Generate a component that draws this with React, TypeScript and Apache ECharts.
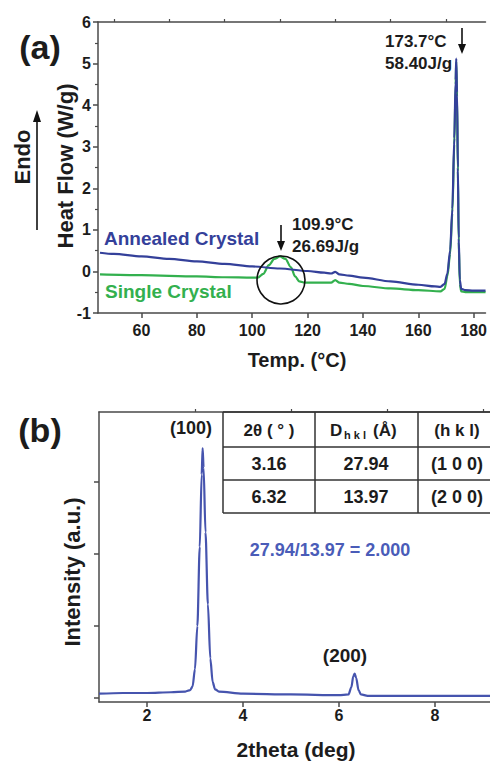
import React, { useEffect, useRef } from "react";
import * as echarts from "echarts";

// ---- (a) DSC data ----
const annealedTemp = [45, 50, 60, 70, 80, 90, 100, 110, 120, 126, 128.5, 130, 131.5, 135, 140, 150, 160, 166, 168, 169.5, 170.5, 171.5, 172.3, 173, 173.5, 173.7, 174, 174.3, 174.6, 175, 175.5, 177, 180, 184.3];
const annealedHeat = [0.45, 0.42, 0.36, 0.3, 0.24, 0.18, 0.12, 0.07, 0.01, -0.03, -0.05, -0.01, -0.07, -0.1, -0.15, -0.24, -0.32, -0.36, -0.37, -0.3, -0.05, 0.5, 1.5, 3.2, 4.6, 5.12, 4.3, 2.5, 0.8, -0.2, -0.42, -0.45, -0.46, -0.46];
const singleTemp = [45, 60, 80, 90, 100, 102, 104, 106, 108, 110, 112, 114, 115.5, 117, 119, 125, 128.5, 130, 131.5, 135, 140, 150, 160, 168, 169.5, 170.5, 171.5, 172.3, 173, 173.5, 173.7, 174, 174.3, 174.6, 175, 175.5, 177, 184.3];
const singleHeat = [-0.07, -0.09, -0.12, -0.14, -0.15, -0.15, -0.06, 0.15, 0.3, 0.36, 0.3, 0.1, -0.12, -0.24, -0.27, -0.27, -0.27, -0.21, -0.27, -0.3, -0.35, -0.41, -0.45, -0.48, -0.42, -0.12, 0.42, 1.4, 3.05, 4.5, 5.05, 4.2, 2.4, 0.7, -0.3, -0.48, -0.5, -0.5];

// ---- (b) XRD data ----
const xrdTheta = [1.0, 1.5, 2.0, 2.5, 2.8, 2.9, 2.95, 3.0, 3.05, 3.1, 3.14, 3.16, 3.18, 3.22, 3.27, 3.32, 3.37, 3.42, 3.5, 4.0, 5.0, 6.0, 6.2, 6.26, 6.3, 6.33, 6.36, 6.41, 6.46, 6.6, 7.0, 8.0, 9.15];
const xrdIntensity = [0.06, 0.07, 0.07, 0.08, 0.09, 0.11, 0.16, 0.4, 1.0, 2.1, 3.1, 3.47, 3.2, 2.3, 1.3, 0.55, 0.22, 0.12, 0.09, 0.06, 0.05, 0.04, 0.05, 0.15, 0.3, 0.34, 0.28, 0.11, 0.05, 0.03, 0.03, 0.03, 0.03];

// ---- ticks ----
const dscMajorTicks = [60, 80, 100, 120, 140, 160, 180];
const dscMinorTicks = [50, 70, 90, 110, 130, 150, 170];
const xrdMajorTicks = [2, 4, 6, 8];
const xrdMinorTicks = [3, 5, 7, 9];
const xrdYTicks = [0, 1, 2, 3];

// ---- table ----
const tableHeader = ["2θ ( ° )", "D", "(h k l)"];
const tableTwoTheta = ["3.16", "6.32"];
const tableD = ["27.94", "13.97"];
const tableHkl = ["(1 0 0)", "(2 0 0)"];

const FONT = "'Liberation Sans', Arial, Helvetica, sans-serif";
const DARK = "#1c1c1c";
const AXIS = "#4a4a4a";
const BLUE = "#34409a";
const GREEN = "#33b04e";
const XRD_BLUE = "#4654ae";

const zip = (a: number[], b: number[]) => a.map((v, i) => [v, b[i]]);

function txt(text: string, x: number, y: number, size: number, opts: any = {}) {
  return {
    type: "text",
    x,
    y,
    rotation: opts.rotation || 0,
    z: 100,
    style: {
      text,
      fill: opts.fill || DARK,
      font: `bold ${size}px ${FONT}`,
      textAlign: opts.align || "center",
      textVerticalAlign: "middle",
    },
  };
}

function downArrow(x: number, y1: number, y2: number) {
  return [
    { type: "line", z: 100, shape: { x1: x, y1, x2: x, y2: y2 - 8 }, style: { stroke: "#111", lineWidth: 1.6 } },
    { type: "polygon", z: 100, shape: { points: [[x - 4, y2 - 10], [x + 4, y2 - 10], [x, y2]] }, style: { fill: "#111" } },
  ];
}

function hline(x1: number, x2: number, y: number) {
  return { type: "line", z: 100, shape: { x1, y1: y, x2, y2: y }, style: { stroke: "#333", lineWidth: 1.5 } };
}
function vline(x: number, y1: number, y2: number) {
  return { type: "line", z: 100, shape: { x1: x, y1, x2: x, y2 }, style: { stroke: "#333", lineWidth: 1.5 } };
}

export default function App() {
  const ref = useRef<HTMLDivElement>(null);
  useEffect(() => {
    if (!ref.current) return;
    const chart = echarts.init(ref.current, null, { renderer: "svg" });

    const axisLine = { show: true, onZero: false, lineStyle: { color: AXIS, width: 1.5 } };
    const labelStyle = { color: DARK, fontWeight: "bold", fontFamily: FONT };

    const colX = [269, 366, 457];
    const rowY = [430, 464, 497];

    const graphic: any[] = [
      txt("(a)", 40, 47, 34),
      txt("(b)", 40, 430, 34),
      txt("Endo", 22, 157, 22, { rotation: Math.PI / 2 }),
      { type: "line", z: 100, shape: { x1: 37, y1: 230, x2: 37, y2: 120 }, style: { stroke: "#111", lineWidth: 1.6 } },
      { type: "polygon", z: 100, shape: { points: [[33, 122], [41, 122], [37, 110]] }, style: { fill: "#111" } },
      txt("Heat Flow (W/g)", 65, 166, 22, { rotation: Math.PI / 2 }),
      txt("Intensity (a.u.)", 72, 572, 22, { rotation: Math.PI / 2 }),
      txt("Temp. (°C)", 297, 360, 20),
      txt("2theta (deg)", 296, 749, 21),
      txt("173.7°C", 385, 41, 17, { align: "left" }),
      txt("58.40J/g", 385, 63, 17, { align: "left" }),
      ...downArrow(462, 28, 54),
      txt("109.9°C", 292, 224, 17, { align: "left" }),
      txt("26.69J/g", 292, 246, 17, { align: "left" }),
      ...downArrow(281, 225, 251),
      { type: "circle", z: 100, shape: { cx: 281, cy: 280, r: 24 }, style: { fill: "none", stroke: "#111", lineWidth: 1.6 } },
      txt("Annealed Crystal", 104, 238, 19, { align: "left", fill: BLUE }),
      txt("Single Crystal", 105, 291, 19, { align: "left", fill: GREEN }),
      txt("(100)", 191, 428, 18),
      txt("(200)", 345, 655, 19),
      txt("27.94/13.97 = 2.000", 330, 550, 18, { fill: "#4a5cb8" }),
      // table
      hline(223, 490, 412),
      hline(223, 490, 447),
      hline(223, 490, 480),
      hline(223, 490, 513),
      vline(223, 412, 513),
      vline(315, 412, 513),
      vline(418, 412, 513),
      txt(tableHeader[0], colX[0], rowY[0], 17),
      txt(tableHeader[1], 330, rowY[0], 17, { align: "left" }),
      txt("h k l", 344, rowY[0] + 5, 11, { align: "left" }),
      txt("(Å)", 373, rowY[0], 17, { align: "left" }),
      txt(tableHeader[2], colX[2], rowY[0], 17),
      ...tableTwoTheta.map((t, i) => txt(t, colX[0], rowY[i + 1], 18)),
      ...tableD.map((t, i) => txt(t, colX[1], rowY[i + 1], 18)),
      ...tableHkl.map((t, i) => txt(t, colX[2], rowY[i + 1], 18)),
    ];

    chart.setOption({
      animation: false,
      backgroundColor: "#ffffff",
      grid: [
        { left: 98, top: 22, width: 392, height: 291, containLabel: false },
        { left: 99, top: 412, width: 391, height: 290, containLabel: false },
      ],
      xAxis: [
        {
          type: "value", gridIndex: 0, min: 44.29, max: 184.29,
          axisLine,
          axisTick: { show: true, length: 5, customValues: dscMajorTicks, lineStyle: { color: AXIS, width: 1.5 } },
          axisLabel: { ...labelStyle, fontSize: 16, margin: 9, customValues: dscMajorTicks },
          splitLine: { show: false },
        },
        {
          type: "value", gridIndex: 0, min: 44.29, max: 184.29,
          axisLine: { show: false, onZero: false },
          axisTick: { show: true, length: 3, customValues: dscMinorTicks, lineStyle: { color: AXIS, width: 1.2 } },
          axisLabel: { show: false },
          splitLine: { show: false },
        },
        {
          type: "value", gridIndex: 0, position: "top", min: 44.29, max: 184.29,
          axisLine,
          axisTick: { show: false },
          axisLabel: { show: false },
          splitLine: { show: false },
        },
        {
          type: "value", gridIndex: 1, min: 1, max: 9.15,
          axisLine,
          axisTick: { show: true, length: 5, customValues: xrdMajorTicks, lineStyle: { color: AXIS, width: 1.5 } },
          axisLabel: { ...labelStyle, fontSize: 16, margin: 5, customValues: xrdMajorTicks },
          splitLine: { show: false },
        },
        {
          type: "value", gridIndex: 1, min: 1, max: 9.15,
          axisLine: { show: false, onZero: false },
          axisTick: { show: true, length: 3, customValues: xrdMinorTicks, lineStyle: { color: AXIS, width: 1.2 } },
          axisLabel: { show: false },
          splitLine: { show: false },
        },
        {
          type: "value", gridIndex: 1, position: "top", min: 1, max: 9.15,
          axisLine,
          axisTick: { show: false },
          axisLabel: { show: false },
          splitLine: { show: false },
        },
      ],
      yAxis: [
        {
          type: "value", gridIndex: 0, min: -1, max: 6, interval: 1,
          axisLine,
          axisTick: { show: true, length: 5, lineStyle: { color: AXIS, width: 1.5 } },
          minorTick: { show: true, splitNumber: 2, length: 3, lineStyle: { color: AXIS, width: 1.2 } },
          axisLabel: { ...labelStyle, fontSize: 16, margin: 7 },
          splitLine: { show: false },
          minorSplitLine: { show: false },
        },
        {
          type: "value", gridIndex: 1, min: -0.055, max: 3.97,
          axisLine,
          axisTick: { show: true, length: 5, customValues: xrdYTicks, lineStyle: { color: AXIS, width: 1.5 } },
          axisLabel: { show: false },
          splitLine: { show: false },
        },
      ],
      series: [
        {
          name: "Single Crystal", type: "line", xAxisIndex: 0, yAxisIndex: 0,
          data: zip(singleTemp, singleHeat), showSymbol: false, symbol: "none",
          smooth: 0.3, smoothMonotone: "x",
          lineStyle: { color: GREEN, width: 2.2 },
        },
        {
          name: "Annealed Crystal", type: "line", xAxisIndex: 0, yAxisIndex: 0,
          data: zip(annealedTemp, annealedHeat), showSymbol: false, symbol: "none",
          smooth: 0.3, smoothMonotone: "x",
          lineStyle: { color: BLUE, width: 2.2 },
        },
        {
          name: "XRD", type: "line", xAxisIndex: 3, yAxisIndex: 1,
          data: zip(xrdTheta, xrdIntensity), showSymbol: false, symbol: "none",
          smooth: 0.3, smoothMonotone: "x",
          lineStyle: { color: XRD_BLUE, width: 2.2 },
        },
      ],
      graphic,
    });
    return () => chart.dispose();
  }, []);

  return (
    <div
      ref={ref}
      style={{ position: "absolute", left: 0, top: 0, width: 490, height: 764, background: "#fff" }}
    />
  );
}
